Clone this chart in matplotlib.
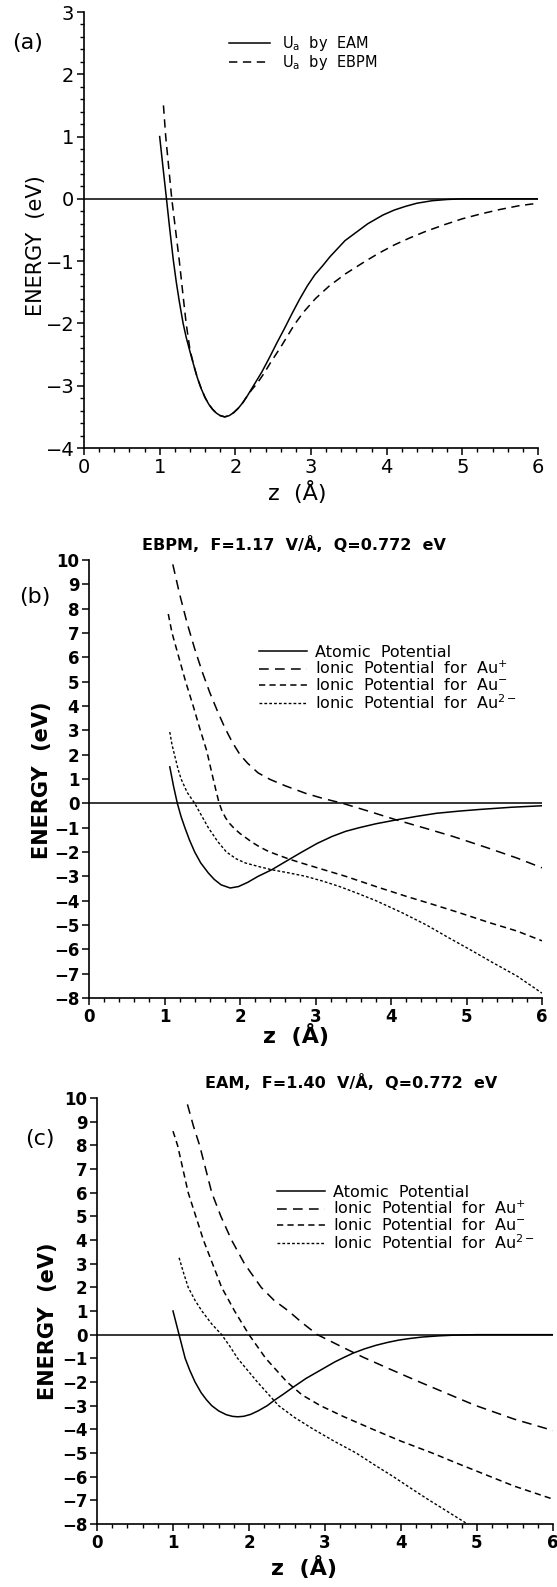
import matplotlib
matplotlib.use('Agg')
import matplotlib.pyplot as plt
from matplotlib.ticker import MultipleLocator

W, H = 557, 1587

# ---- panel (a): U_a by EAM / EBPM
z_eam = [1.00, 1.04, 1.09, 1.13, 1.18, 1.22, 1.26, 1.31, 1.35, 1.40, 1.45, 1.50, 1.55, 1.60,
         1.65, 1.70, 1.75, 1.80, 1.86, 1.92, 1.98, 2.04, 2.10, 2.16, 2.25, 2.35, 2.45, 2.55,
         2.65, 2.75, 2.85, 2.95, 3.05, 3.15, 3.25, 3.35, 3.45, 3.55, 3.65, 3.75, 3.85, 3.95,
         4.10, 4.25, 4.40, 4.60, 4.80, 5.00, 6.00]
u_eam = [1.00, 0.55, 0.00, -0.45, -0.98, -1.34, -1.65, -2.00, -2.22, -2.45, -2.67, -2.88,
         -3.05, -3.19, -3.30, -3.38, -3.44, -3.48, -3.50, -3.48, -3.43, -3.36, -3.27, -3.16,
         -2.98, -2.78, -2.55, -2.31, -2.08, -1.84, -1.61, -1.40, -1.22, -1.08, -0.93, -0.80,
         -0.67, -0.58, -0.49, -0.40, -0.33, -0.26, -0.18, -0.12, -0.07, -0.03, -0.01, 0.00, 0.00]
z_ebpm = [1.05, 1.08, 1.12, 1.16, 1.21, 1.26, 1.30, 1.35, 1.40, 1.45, 1.50, 1.55, 1.60, 1.65,
          1.70, 1.75, 1.80, 1.86, 1.92, 1.98, 2.04, 2.10, 2.16, 2.22, 2.29, 2.38, 2.47, 2.60,
          2.70, 2.78, 2.90, 3.06, 3.24, 3.46, 3.72, 3.90, 4.10, 4.30, 4.50, 4.75, 5.00, 5.25,
          5.50, 5.75, 6.00]
u_ebpm = [1.50, 1.00, 0.50, 0.00, -0.50, -1.00, -1.45, -2.00, -2.42, -2.67, -2.88, -3.05,
          -3.19, -3.30, -3.38, -3.44, -3.48, -3.50, -3.48, -3.43, -3.36, -3.27, -3.16, -3.06,
          -2.96, -2.80, -2.62, -2.38, -2.18, -2.02, -1.82, -1.60, -1.40, -1.20, -1.00, -0.87,
          -0.74, -0.63, -0.53, -0.42, -0.32, -0.24, -0.17, -0.11, -0.07]

# ---- panel (b): EBPM, F=1.17
zb_atom = [1.07, 1.12, 1.17, 1.22, 1.27, 1.33, 1.40, 1.48, 1.58, 1.66, 1.75, 1.87, 1.98, 2.10,
           2.24, 2.42, 2.60, 2.82, 3.02, 3.22, 3.40, 3.58, 3.80, 4.07, 4.35, 4.60, 4.90, 5.18,
           5.60, 6.00]
ub_atom = [1.50, 0.70, 0.00, -0.55, -1.00, -1.50, -2.00, -2.45, -2.86, -3.13, -3.35, -3.48,
           -3.42, -3.25, -3.00, -2.73, -2.40, -2.00, -1.65, -1.36, -1.15, -1.00, -0.84, -0.68,
           -0.53, -0.41, -0.32, -0.25, -0.16, -0.10]
zb_p1 = [1.11, 1.20, 1.30, 1.40, 1.50, 1.60, 1.70, 1.80, 1.90, 2.00, 2.10, 2.24, 2.40, 2.60,
         2.87, 3.10, 3.36, 3.70, 4.07, 4.45, 4.82, 5.25, 5.67, 6.00]
ub_p1 = [9.82, 8.60, 7.40, 6.35, 5.40, 4.55, 3.80, 3.10, 2.50, 2.00, 1.65, 1.25, 0.98, 0.72,
         0.41, 0.20, 0.00, -0.32, -0.68, -1.02, -1.36, -1.80, -2.25, -2.65]
zb_m1 = [1.05, 1.10, 1.19, 1.28, 1.38, 1.47, 1.56, 1.63, 1.68, 1.72, 1.76, 1.81, 1.86, 1.92,
         2.00, 2.08, 2.16, 2.26, 2.38, 2.50, 2.64, 2.78, 3.10, 3.40, 3.80, 4.20, 4.55, 4.91,
         5.30, 5.67, 6.00]
ub_m1 = [7.78, 7.00, 6.00, 5.00, 4.00, 3.05, 2.15, 1.20, 0.55, 0.05, -0.30, -0.60, -0.82,
         -1.02, -1.24, -1.42, -1.60, -1.79, -1.98, -2.12, -2.28, -2.42, -2.72, -3.00, -3.42,
         -3.82, -4.15, -4.50, -4.90, -5.25, -5.65]
zb_m2 = [1.07, 1.10, 1.14, 1.18, 1.22, 1.30, 1.40, 1.49, 1.58, 1.70, 1.82, 1.95, 2.07, 2.25,
         2.42, 2.65, 2.87, 3.10, 3.31, 3.55, 3.80, 4.15, 4.47, 4.75, 5.04, 5.35, 5.67, 6.00]
ub_m2 = [2.93, 2.40, 1.90, 1.40, 1.00, 0.45, 0.00, -0.50, -1.00, -1.55, -2.00, -2.28, -2.45,
         -2.60, -2.73, -2.86, -3.00, -3.20, -3.41, -3.69, -4.00, -4.50, -5.00, -5.50, -6.00,
         -6.55, -7.10, -7.80]

# ---- panel (c): EAM, F=1.40
zc_atom = [1.00, 1.04, 1.08, 1.12, 1.16, 1.22, 1.29, 1.37, 1.44, 1.51, 1.60, 1.70, 1.78, 1.85,
           1.93, 2.02, 2.12, 2.24, 2.33, 2.45, 2.59, 2.75, 2.94, 3.13, 3.25, 3.37, 3.52, 3.67,
           3.82, 3.97, 4.12, 4.28, 4.50, 4.70, 5.00, 6.00]
uc_atom = [1.00, 0.50, 0.00, -0.50, -1.00, -1.50, -2.00, -2.45, -2.75, -3.00, -3.22, -3.38,
           -3.45, -3.47, -3.45, -3.37, -3.22, -3.00, -2.78, -2.52, -2.20, -1.85, -1.50, -1.15,
           -0.96, -0.78, -0.60, -0.45, -0.33, -0.23, -0.16, -0.10, -0.05, -0.02, 0.00, 0.00]
zc_p1 = [1.19, 1.27, 1.35, 1.43, 1.51, 1.63, 1.77, 1.94, 2.16, 2.33, 2.52, 2.70, 2.90, 3.20,
         3.50, 3.85, 4.23, 4.60, 4.97, 5.49, 6.00]
uc_p1 = [9.73, 8.80, 8.00, 7.00, 6.00, 5.00, 4.00, 3.00, 2.00, 1.45, 1.00, 0.50, 0.00, -0.48,
         -0.95, -1.45, -1.98, -2.48, -2.98, -3.57, -4.05]
zc_m1 = [1.00, 1.06, 1.13, 1.20, 1.30, 1.40, 1.52, 1.64, 1.81, 2.00, 2.22, 2.50, 2.70, 2.94,
         3.25, 3.63, 4.00, 4.41, 4.75, 5.10, 5.49, 6.00]
uc_m1 = [8.60, 8.00, 7.00, 6.00, 5.00, 4.00, 3.00, 2.00, 1.00, 0.00, -1.00, -2.00, -2.55,
         -3.00, -3.47, -4.00, -4.50, -5.00, -5.45, -5.90, -6.40, -6.95]
zc_m2 = [1.08, 1.14, 1.20, 1.29, 1.38, 1.51, 1.64, 1.75, 1.85, 1.98, 2.11, 2.25, 2.39, 2.60,
         2.85, 3.12, 3.41, 3.65, 3.89, 4.12, 4.35, 4.60, 4.85]
uc_m2 = [3.25, 2.60, 2.00, 1.45, 1.00, 0.45, 0.00, -0.50, -1.00, -1.50, -2.00, -2.50, -3.00,
         -3.50, -4.00, -4.50, -5.00, -5.50, -5.98, -6.47, -6.95, -7.45, -7.95]

labels_a = ['U$_\\mathregular{a}$  by  EAM', 'U$_\\mathregular{a}$  by  EBPM']
labels_bc = ['Atomic  Potential',
             'Ionic  Potential  for  Au$^\\mathregular{+}$',
             'Ionic  Potential  for  Au$^\\mathregular{-}$',
             'Ionic  Potential  for  Au$^\\mathregular{2-}$']
titles = ['EBPM,  F=1.17  V/Å,  Q=0.772  eV', 'EAM,  F=1.40  V/Å,  Q=0.772  eV']

plt.rcParams['font.family'] = ['DejaVu Sans']
plt.rcParams['lines.scale_dashes'] = False
plt.rcParams['mathtext.default'] = 'regular'
plt.rcParams['lines.solid_joinstyle'] = 'round'
plt.rcParams['lines.dash_joinstyle'] = 'round'

fig = plt.figure(figsize=(W / 100, H / 100), dpi=100)


def box(left, top, right, bottom):
    return [left / W, 1 - bottom / H, (right - left) / W, (bottom - top) / H]


def fx(x):
    return x / W


def fy(y):
    return 1 - y / H


LONG = (0, (7, 4.5))
MED = (0, (4.5, 3))
SHORT = (0, (2, 1.5))
LW = 1.1


def style_axes(ax, ylo, yhi, yminor, tick_size, bold):
    ax.set_xlim(0, 6)
    ax.set_ylim(ylo, yhi)
    ax.spines['top'].set_visible(False)
    ax.spines['right'].set_visible(False)
    for s in ('left', 'bottom'):
        ax.spines[s].set_linewidth(1.2)
    ax.xaxis.set_major_locator(MultipleLocator(1))
    ax.xaxis.set_minor_locator(MultipleLocator(0.2))
    ax.yaxis.set_major_locator(MultipleLocator(1))
    if yminor:
        ax.yaxis.set_minor_locator(MultipleLocator(yminor))
    ax.tick_params(which='major', direction='out', length=5, width=1.1,
                   labelsize=tick_size, pad=2)
    ax.tick_params(which='minor', direction='out', length=3, width=1.0)
    ax.axhline(0, color='black', lw=1.1)
    fmt = lambda v, p: ('%d' % v).replace('-', '\u2212')
    ax.xaxis.set_major_formatter(fmt)
    ax.yaxis.set_major_formatter(fmt)
    for t in ax.get_xticklabels() + ax.get_yticklabels():
        t.set_fontweight('bold' if bold else 'normal')


def ion_panel(ax, curves, legend_xy):
    styles = ['-', LONG, MED, SHORT]
    for (z, u), ls, lab in zip(curves, styles, labels_bc):
        ax.plot(z, u, color='black', lw=LW if ls != SHORT else LW * 0.9, ls=ls, label=lab)
    style_axes(ax, -8, 10, None, 12, True)
    ax.legend(loc='upper left', bbox_to_anchor=(fx(legend_xy[0]), fy(legend_xy[1])),
              bbox_transform=fig.transFigure, frameon=False, fontsize=11.5,
              handlelength=3.0, handletextpad=0.5, labelspacing=0.0,
              borderpad=0, borderaxespad=0)


# (a)
ax1 = fig.add_axes(box(84, 12, 538, 448))
ax1.plot(z_eam, u_eam, color='black', lw=LW, label=labels_a[0])
ax1.plot(z_ebpm, u_ebpm, color='black', lw=LW, ls=(0, (6, 4)), label=labels_a[1])
style_axes(ax1, -4, 3, 0.2, 14, False)
ax1.legend(loc='upper left', bbox_to_anchor=(fx(229), fy(34)), bbox_transform=fig.transFigure,
           frameon=False, fontsize=10.5, handlelength=2.8, handletextpad=0.8,
           labelspacing=0.0, borderpad=0, borderaxespad=0)
fig.text(fx(28), fy(43), '(a)', fontsize=16, ha='center', va='center')
fig.text(fx(36), fy(246), 'ENERGY  (eV)', fontsize=15, rotation=90, ha='center', va='center')
fig.text(fx(297), fy(492), 'z  (Å)', fontsize=16, ha='center', va='center')

# (b)
ax2 = fig.add_axes(box(89, 560, 542, 998))
ion_panel(ax2, [(zb_atom, ub_atom), (zb_p1, ub_p1), (zb_m1, ub_m1), (zb_m2, ub_m2)], (259, 645))
fig.text(fx(294), fy(545), titles[0], fontsize=11.5, fontweight='bold', ha='center', va='center')
fig.text(fx(35), fy(597), '(b)', fontsize=16, ha='center', va='center')
fig.text(fx(42), fy(780), 'ENERGY  (eV)', fontsize=15, fontweight='bold', rotation=90,
         ha='center', va='center')
fig.text(fx(296), fy(1036), 'z  (Å)', fontsize=16, fontweight='bold', ha='center', va='center')

# (c)
ax3 = fig.add_axes(box(97, 1098, 553, 1524))
ion_panel(ax3, [(zc_atom, uc_atom), (zc_p1, uc_p1), (zc_m1, uc_m1), (zc_m2, uc_m2)], (277, 1185))
fig.text(fx(351), fy(1082), titles[1], fontsize=11.5, fontweight='bold', ha='center', va='center')
fig.text(fx(40), fy(1139), '(c)', fontsize=16, ha='center', va='center')
fig.text(fx(48), fy(1321), 'ENERGY  (eV)', fontsize=15, fontweight='bold', rotation=90,
         ha='center', va='center')
fig.text(fx(304), fy(1568), 'z  (Å)', fontsize=16, fontweight='bold', ha='center', va='center')

fig.savefig('out.png', dpi=100)
